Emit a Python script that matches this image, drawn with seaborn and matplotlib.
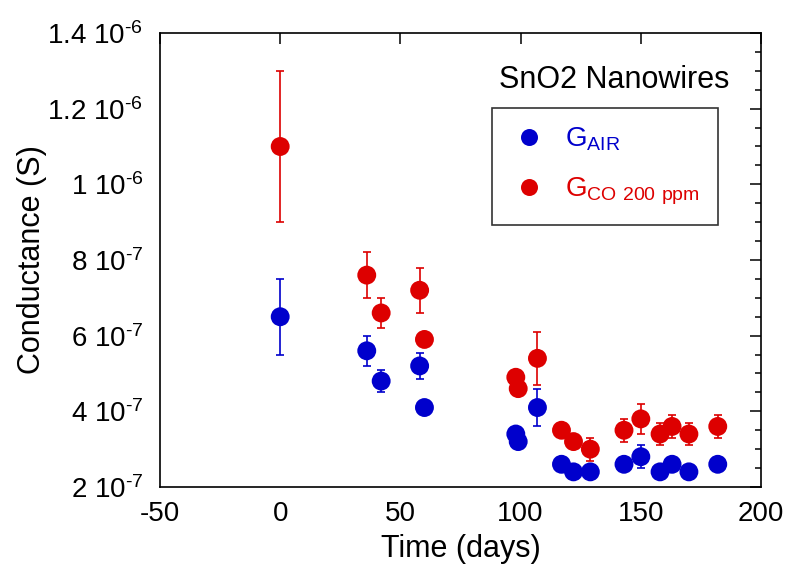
import numpy as np
import pandas as pd
import matplotlib
matplotlib.use('Agg')
import matplotlib.pyplot as plt
import seaborn as sns
from matplotlib.ticker import FixedLocator, FixedFormatter, MultipleLocator

# values (time in days, conductance in S)
t_air = [0, 36, 42, 58, 60, 98, 99, 107, 117, 122, 129, 143, 150, 158, 163, 170, 182]
g_air = [6.5e-7, 5.6e-7, 4.8e-7, 5.2e-7, 4.1e-7, 3.4e-7, 3.2e-7, 4.1e-7, 2.6e-7, 2.4e-7,
         2.4e-7, 2.6e-7, 2.8e-7, 2.4e-7, 2.6e-7, 2.4e-7, 2.6e-7]
e_air = [1.0e-7, 0.4e-7, 0.3e-7, 0.35e-7, 0.1e-7, 0.1e-7, 0.1e-7, 0.5e-7, 0.1e-7, 0.1e-7,
         0.1e-7, 0.1e-7, 0.3e-7, 0.1e-7, 0.1e-7, 0.1e-7, 0.1e-7]

t_co = [0, 36, 42, 58, 60, 98, 99, 107, 117, 122, 129, 143, 150, 158, 163, 170, 182]
g_co = [1.1e-6, 7.6e-7, 6.6e-7, 7.2e-7, 5.9e-7, 4.9e-7, 4.6e-7, 5.4e-7, 3.5e-7, 3.2e-7,
        3.0e-7, 3.5e-7, 3.8e-7, 3.4e-7, 3.6e-7, 3.4e-7, 3.6e-7]
e_co = [2.0e-7, 0.6e-7, 0.4e-7, 0.6e-7, 0.1e-7, 0.1e-7, 0.1e-7, 0.7e-7, 0.1e-7, 0.1e-7,
        0.3e-7, 0.3e-7, 0.4e-7, 0.3e-7, 0.3e-7, 0.3e-7, 0.3e-7]

series_names = ['air', 'co']
series_labels = [r'G$_{\mathregular{AIR}}$', r'G$_{\mathregular{CO\ 200\ ppm}}$']
colors = ['#0000cc', '#dd0000']

ytick_vals = [2e-7, 4e-7, 6e-7, 8e-7, 1e-6, 1.2e-6, 1.4e-6]
ytick_labels = [r'2 10$^{\text{-}7}$', r'4 10$^{\text{-}7}$', r'6 10$^{\text{-}7}$',
                r'8 10$^{\text{-}7}$', r'1 10$^{\text{-}6}$', r'1.2 10$^{\text{-}6}$',
                r'1.4 10$^{\text{-}6}$']
xtick_vals = [-50, 0, 50, 100, 150, 200]

df = pd.concat([
    pd.DataFrame({'time': t_air, 'G': g_air, 'err': e_air, 'series': 'air'}),
    pd.DataFrame({'time': t_co, 'G': g_co, 'err': e_co, 'series': 'co'}),
], ignore_index=True)

sns.set_style('white')
plt.rcParams['font.family'] = ['Liberation Sans', 'DejaVu Sans']
plt.rcParams['mathtext.fontset'] = 'custom'
plt.rcParams['mathtext.rm'] = 'Liberation Sans'
plt.rcParams['mathtext.default'] = 'regular'
plt.rcParams['axes.unicode_minus'] = False
for k in ['text.color', 'axes.labelcolor', 'xtick.color', 'ytick.color']:
    plt.rcParams[k] = 'black'

fig = plt.figure(figsize=(7.87, 5.66), dpi=100)
ax = fig.add_axes([0.2033, 0.1396, 0.7637, 0.8021])

for name, c in zip(series_names, colors):
    d = df[df['series'] == name]
    ax.errorbar(d['time'], d['G'], yerr=d['err'], fmt='none', ecolor=c,
                elinewidth=1.2, capsize=3, capthick=1.2, zorder=2)

sns.scatterplot(data=df, x='time', y='G', hue='series', hue_order=series_names,
                palette=colors, s=185, marker='o', edgecolor='none', ax=ax,
                zorder=3, legend=True)

ax.set_xlim(-50, 200)
ax.set_ylim(2e-7, 1.4e-6)
ax.xaxis.set_major_locator(FixedLocator(xtick_vals))
ax.yaxis.set_major_locator(FixedLocator(ytick_vals))
ax.yaxis.set_major_formatter(FixedFormatter(ytick_labels))
ax.yaxis.set_minor_locator(MultipleLocator(0.5e-7))
ax.tick_params(which='both', direction='in', top=True, right=True, width=1.1, color='black')
ax.tick_params(which='major', length=8, labelsize=20)
ax.tick_params(which='minor', length=4)
ax.tick_params(axis='y', pad=12)
ax.tick_params(axis='x', pad=10)
for sp in ax.spines.values():
    sp.set_color('black')
    sp.set_linewidth(1.2)

ax.set_xlabel('Time (days)', fontsize=22, labelpad=5)
ax.set_ylabel('Conductance (S)', fontsize=22, labelpad=0)

ax.text(0.755, 0.896, 'SnO2 Nanowires', transform=ax.transAxes, fontsize=22,
        ha='center', va='center')

handles, _ = ax.get_legend_handles_labels()
leg = ax.legend(handles, series_labels, loc='upper left', bbox_to_anchor=(0.552, 0.835),
                fontsize=20, frameon=True, fancybox=False, borderpad=0.65,
                handlelength=1.4, handletextpad=0.6, labelspacing=0.8,
                labelcolor=colors, markerscale=0.9, borderaxespad=0)
leg.get_frame().set_edgecolor('black')
leg.get_frame().set_linewidth(1.2)

fig.savefig('out.png', dpi=100)
